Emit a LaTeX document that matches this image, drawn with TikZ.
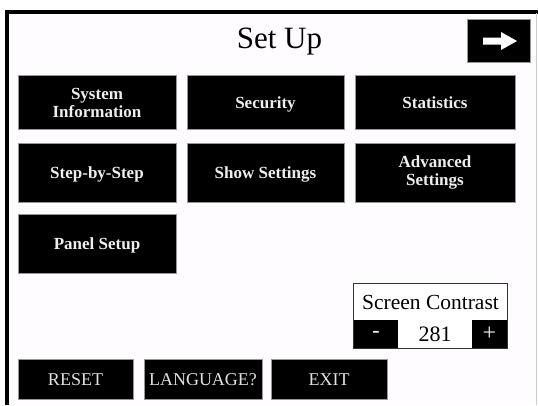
\documentclass[tikz,border=0pt]{standalone}
\usepackage{fontspec}
\setmainfont{Liberation Serif}
\definecolor{screenbg}{RGB}{254,252,254}
\definecolor{btntext}{RGB}{238,238,238}
\definecolor{lowtext}{RGB}{225,225,225}
\definecolor{edgegray}{RGB}{150,150,150}
\tikzset{
  btn/.style={rectangle, fill=black, draw=edgegray, line width=0.6pt, inner sep=0pt,
    text=btntext, align=center, font=\bfseries\fontsize{17}{18}\selectfont},
  onel/.style={text height=11.5pt, text depth=0pt},
  lowbtn/.style={rectangle, fill=black, draw=edgegray, line width=0.6pt, inner sep=0pt,
    text=lowtext, font=\fontsize{18}{20}\selectfont, minimum width=116pt, minimum height=40pt,
    text height=12pt, text depth=0pt},
  cbox/.style={rectangle, inner sep=0pt, minimum height=28pt},
}
\begin{document}
\begin{tikzpicture}[x=1pt,y=-1pt]
\useasboundingbox (0,0) rectangle (538,405);
\fill[white] (0,0) rectangle (538,405);
\fill[screenbg] (7,12) rectangle (536,405);
% frame
\draw[line width=4pt] (7,405) -- (7,11.5) -- (538,11.5);
\draw[gray!40, line width=0.8pt] (536.5,13) -- (536.5,405);
% title
\node[anchor=base, font=\fontsize{31}{34}\selectfont] (title) at (279.5,48) {Set Up};
% arrow button
\node[rectangle, fill=black, draw=edgegray, line width=0.6pt, minimum width=63pt, minimum height=43pt, inner sep=0pt] (next) at (498.5,40.5) {};
\fill[white] (483,37.5) -- (501,37.5) -- (501,32) -- (517,41) -- (501,50) -- (501,44.5) -- (483,44.5) -- cycle;
% row 1
\node[btn, minimum width=158pt, minimum height=54pt] (sysinfo) at (97,102.5) {System\\Information};
\node[btn, onel, minimum width=157pt, minimum height=54pt] (security) at (265.5,102.5) {Security};
\node[btn, onel, minimum width=160pt, minimum height=54pt] (stats) at (435,102.5) {Statistics};
% row 2
\node[btn, onel, minimum width=158pt, minimum height=59pt] (step) at (97,172.5) {Step-by-Step};
\node[btn, onel, minimum width=157pt, minimum height=59pt] (show) at (265.5,172.5) {Show Settings};
\node[btn, minimum width=160pt, minimum height=59pt] (adv) at (435,172.5) {Advanced\\Settings};
% row 3
\node[btn, onel, minimum width=158pt, minimum height=59pt] (panel) at (97,243.5) {Panel Setup};
% screen contrast
\node[rectangle, fill=white, inner sep=0pt, minimum width=153pt, minimum height=36pt, font=\fontsize{21.5}{24}\selectfont] (contrast) at (430.5,302) {Screen Contrast};
\node[cbox, fill=black, minimum width=44pt, text=btntext, font=\bfseries\fontsize{22}{24}\selectfont] (minus) at (376,334) {-};
\node[cbox, fill=white, minimum width=74pt, font=\fontsize{22}{24}\selectfont] (value) at (435,334) {281};
\node[cbox, fill=black, minimum width=35pt, text=btntext, font=\fontsize{24}{26}\selectfont] (plus) at (489.5,334) {+};
\draw[black!80, line width=0.8pt] (contrast.north west) rectangle (plus.south east);
\draw[black!80, line width=0.8pt] (minus.south east) -- (plus.south west);
% bottom buttons
\node[lowbtn, minimum width=115pt] (reset) at (75.5,379) {RESET};
\node[lowbtn, minimum width=118pt] (lang) at (203,379) {LANGUAGE?};
\node[lowbtn, minimum width=116pt] (exit) at (329,379) {EXIT};
\end{tikzpicture}
\end{document}
